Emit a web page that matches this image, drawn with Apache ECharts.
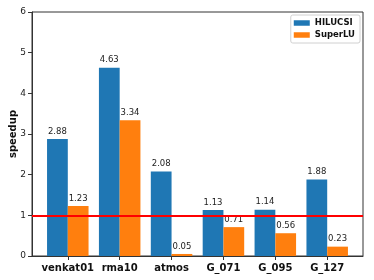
<!DOCTYPE html>
<html><head><meta charset="utf-8">
<script src="https://cdn.jsdelivr.net/npm/echarts@6/dist/echarts.min.js"></script>
<style>html,body{margin:0;padding:0;background:#fff}#c{width:374px;height:280px}</style>
</head><body><div id="c"></div>
<script>
const categories = ['venkat01', 'rma10', 'atmos', 'G_071', 'G_095', 'G_127'];
const hilucsi = [2.88, 4.63, 2.08, 1.13, 1.14, 1.88];
const superlu = [1.23, 3.34, 0.05, 0.71, 0.56, 0.23];
const yTicks = [0, 1, 2, 3, 4, 5, 6];
const refLine = 1;
const seriesNames = ['HILUCSI', 'SuperLU'];

const positions = categories.map((c, i) => i);
const FONT = 'DejaVu Sans';
const chart = echarts.init(document.getElementById('c'), null, {renderer: 'canvas'});

const labelCfg = {
  show: true, position: 'top', distance: 3,
  fontFamily: FONT, fontSize: 8.5, color: '#222',
  formatter: p => p.value[1].toFixed(2)
};

chart.setOption({
  animation: false,
  backgroundColor: '#fff',
  textStyle: {fontFamily: FONT},
  grid: {left: 32, right: 11, top: 12, bottom: 24, show: true, borderColor: '#333', borderWidth: 1,
         containLabel: false, outerBoundsMode: 'none'},
  legend: {
    data: seriesNames, orient: 'vertical', right: 14, top: 15,
    itemWidth: 16, itemHeight: 5.5, itemGap: 2,
    padding: [3, 5, 3, 3],
    borderColor: '#d0d0d0', borderWidth: 1, borderRadius: 2,
    textStyle: {fontFamily: FONT, fontSize: 8.5, fontWeight: 'bold', color: '#111', lineHeight: 10},
    icon: 'rect'
  },
  xAxis: {
    type: 'value', min: -0.69, max: 5.69,
    splitLine: {show: false},
    axisLine: {show: true, onZero: false, lineStyle: {color: '#333', width: 1}},
    axisTick: {show: true, customValues: positions, length: 4, lineStyle: {color: '#333'}},
    axisLabel: {
      customValues: positions, margin: 7,
      fontFamily: FONT, fontSize: 10, fontWeight: 'bold', color: '#111',
      formatter: v => categories[Math.round(v)]
    }
  },
  yAxis: {
    type: 'value', min: yTicks[0], max: yTicks[yTicks.length - 1], interval: 1,
    name: 'speedup', nameLocation: 'middle', nameGap: 14, nameRotate: 90, nameMoveOverlap: false,
    nameTextStyle: {fontFamily: FONT, fontSize: 10, fontWeight: 'bold', color: '#111'},
    splitLine: {show: false},
    axisLine: {show: true, onZero: false, lineStyle: {color: '#333', width: 1}},
    axisTick: {show: true, length: 4, lineStyle: {color: '#333'}},
    axisLabel: {fontFamily: FONT, fontSize: 9, color: '#222', margin: 6}
  },
  series: [
    {
      name: seriesNames[0], type: 'bar', barWidth: '40%', barGap: '0%',
      itemStyle: {color: '#1f77b4'},
      label: labelCfg,
      data: categories.map((c, i) => [positions[i], hilucsi[i]]),
      markLine: {
        silent: true, symbol: 'none', label: {show: false},
        lineStyle: {color: '#ff0000', width: 2, type: 'solid'},
        data: [{yAxis: refLine}],
        z: 10
      }
    },
    {
      name: seriesNames[1], type: 'bar', barWidth: '40%', barGap: '0%',
      itemStyle: {color: '#ff7f0e'},
      label: labelCfg,
      data: categories.map((c, i) => [positions[i], superlu[i]])
    }
  ]
});
</script>
</body></html>
